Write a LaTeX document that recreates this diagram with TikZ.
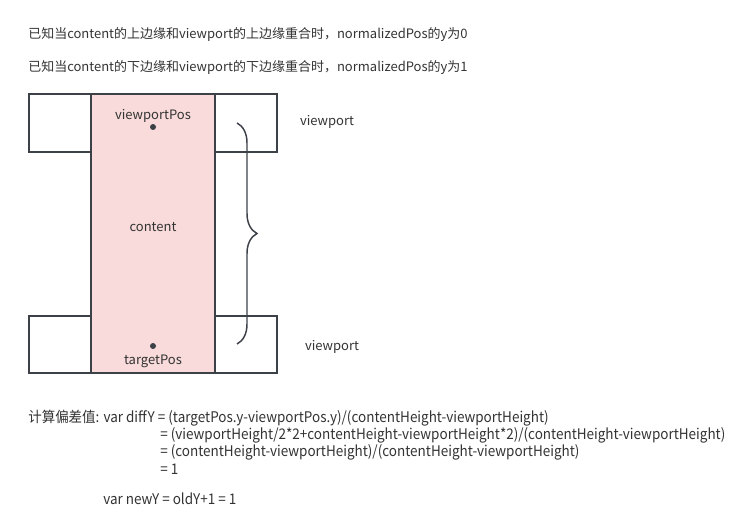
\documentclass[tikz,border=0pt]{standalone}
\usepackage{fontspec}
\setmainfont{Noto Sans CJK SC}
\newfontfamily\etroit[FakeStretch=0.92]{Noto Sans CJK SC}
\usetikzlibrary{decorations.pathreplacing,positioning}
\definecolor{trait}{HTML}{3C4047}
\definecolor{rose}{HTML}{F8DBDA}
\definecolor{texte}{HTML}{333333}

\begin{document}
\begin{tikzpicture}[x=0.75pt,y=-0.75pt]

\tikzset{cadre/.style={draw=trait,line width=1.1pt}} %style des rectangles
\tikzset{etiquette/.style={text=texte,font=\fontsize{9.75pt}{12pt}\selectfont,inner sep=0pt}}
\tikzset{calcul/.style={text=texte,font=\etroit\fontsize{11pt}{13pt}\selectfont,inner sep=0pt,anchor=west}}
\tikzset{point/.style={circle,fill=trait,inner sep=0pt,minimum size=4.5pt}}

\useasboundingbox (0,0) rectangle (748,524);

%----------textes du haut------------
\node[etiquette,anchor=west] (haut) at (28,35) {已知当content的上边缘和viewport的上边缘重合时，normalizedPos的y为0};
\node[etiquette,anchor=west] (bas) at (28,68) {已知当content的下边缘和viewport的下边缘重合时，normalizedPos的y为1};

%----------les deux viewports------------
\draw[cadre] (29,94) rectangle (277,152);
\draw[cadre] (29,316) rectangle (277,373);

%contenu
\draw[cadre,fill=rose] (91,94) rectangle (215,373);

\node[etiquette] (vpos) at (153,116) {viewportPos};
\node[point] (pv) at (153,127) {};
\node[etiquette] (contenu) at (153,227) {content};
\node[point] (pt) at (153,346) {};
\node[etiquette] (tpos) at (153,361) {targetPos};

%accolade
\draw[trait,line width=1.1pt,decorate,decoration={brace,amplitude=15pt}] (237,123) -- (237,344);

\node[etiquette] (vp1) at (327,122) {viewport};
\node[etiquette] (vp2) at (332,347) {viewport};

%----------calcul------------
\node[calcul] (c1) at (28,418) {计算偏差值: var diffY = (targetPos.y-viewportPos.y)/(contentHeight-viewportHeight)};
\node[calcul] (c2) at (160,435) {= (viewportHeight/2*2+contentHeight-viewportHeight*2)/(contentHeight-viewportHeight)};
\node[calcul] (c3) at (160,452) {= (contentHeight-viewportHeight)/(contentHeight-viewportHeight)};
\node[calcul] (c4) at (160,469) {= 1};
\node[calcul] (c5) at (103,499) {var newY = oldY+1 = 1};

\end{tikzpicture}
\end{document}
